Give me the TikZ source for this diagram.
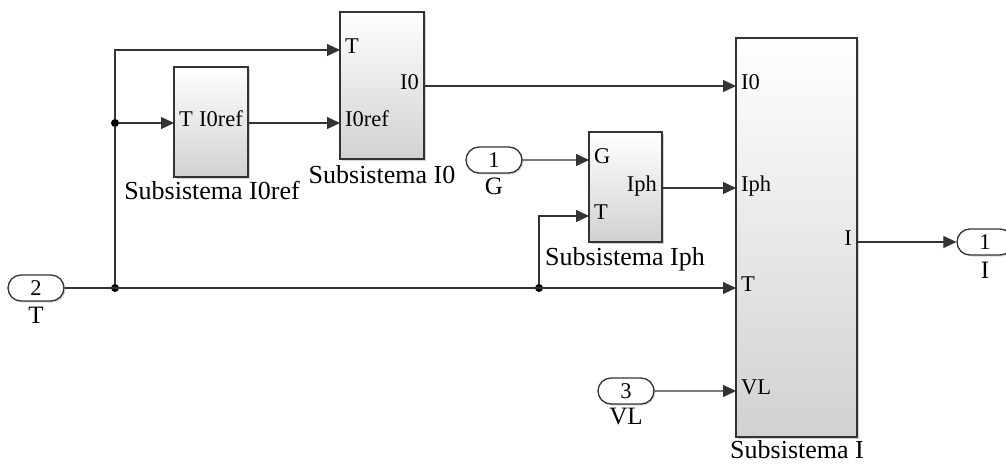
\documentclass[tikz,border=0pt]{standalone}
\usepackage{fontspec}
\setmainfont{Liberation Serif}
\usetikzlibrary{arrows.meta,positioning,shadows,shapes.misc}

\begin{document}
\begin{tikzpicture}[x=1pt,y=-1pt,
  font=\fontsize{22.5}{24}\selectfont,
  blk/.style={draw=black!80,line width=1.4pt,inner sep=0pt,
    top color=white,middle color=white,bottom color=black!18,
    drop shadow={shadow xshift=1.5pt,shadow yshift=-1.5pt,opacity=.35}},
  port/.style={rounded rectangle,draw=black!80,line width=1.3pt,fill=white,
    minimum width=56pt,minimum height=26pt,inner sep=0pt,
    drop shadow={shadow xshift=1.5pt,shadow yshift=-1.5pt,opacity=.3}},
  prt/.style={inner sep=5pt,text height=0.66em,text depth=0pt},
  ttl/.style={inner sep=0pt,text height=0.66em,text depth=0pt,font=\fontsize{26}{28}\selectfont},
  lbl/.style={inner sep=0pt,text height=0.66em,text depth=0pt,font=\fontsize{25}{26}\selectfont},
  dot/.style={circle,fill=black,inner sep=0pt,minimum size=8pt},
  sig/.style={draw=black!80,line width=1.2pt},
  >={Triangle[length=13pt,width=12pt]}]
\useasboundingbox (0,0) rectangle (1006,466);
% inports and outport
\node[port] (in2) at (36,288) {2};
\node[lbl] (in2l) at (36,320) {T};
\node[port] (in1) at (494,160) {1};
\node[lbl] (in1l) at (494,191) {G};
\node[port] (in3) at (626,391) {3};
\node[lbl] (in3l) at (626,421) {VL};
\node[port] (out1) at (985,242) {1};
\node[lbl] (out1l) at (985,275) {I};
% Subsistema I0ref
\node[blk,minimum width=74pt,minimum height=110pt] (ref) at (211,122) {};
\node[ttl] (refl) at (212,196) {Subsistema I0ref};
\node[prt,anchor=west] (refT) at (174,123) {T};
\node[prt,anchor=east] (refO) at (248,123) {I0ref};
% Subsistema I0
\node[blk,minimum width=84pt,minimum height=147pt] (io) at (382,85.5) {};
\node[ttl] (iol) at (382,180) {Subsistema I0};
\node[prt,anchor=west] (ioT) at (340,50) {T};
\node[prt,anchor=west] (ioR) at (340,123) {I0ref};
\node[prt,anchor=east] (ioO) at (424,86) {I0};
% Subsistema Iph
\node[blk,minimum width=73pt,minimum height=110pt] (iph) at (625.5,187) {};
\node[ttl] (iphl) at (625,262) {Subsistema Iph};
\node[prt,anchor=west] (iphG) at (589,160) {G};
\node[prt,anchor=west] (iphT) at (589,216) {T};
\node[prt,anchor=east] (iphO) at (662,188) {Iph};
% Subsistema I
\node[blk,minimum width=121pt,minimum height=399pt] (isub) at (796.5,237.5) {};
\node[ttl] (isubl) at (797,455) {Subsistema I};
\node[prt,anchor=west] (isubI0) at (736,86) {I0};
\node[prt,anchor=west] (isubIph) at (736,188) {Iph};
\node[prt,anchor=west] (isubT) at (736,288) {T};
\node[prt,anchor=west] (isubVL) at (736,391) {VL};
\node[prt,anchor=east] (isubO) at (857,242) {I};
% branch points
\node[dot] (j1) at (115,288) {};
\node[dot] (j2) at (115,123) {};
\node[dot] (j3) at (539,288) {};
% signals
\draw[sig,->] (in2.east) -- (isubT.west);
\draw[sig] (j1) -- (j2);
\draw[sig,->] (j2) |- (ioT.west);
\draw[sig,->] (j2) -- (refT.west);
\draw[sig,->] (refO.east) -- (ioR.west);
\draw[sig,->] (ioO.east) -- (isubI0.west);
\draw[sig,->] (in1) -- (iphG.west);
\draw[sig,->] (j3) |- (iphT.west);
\draw[sig,->] (iphO.east) -- (isubIph.west);
\draw[sig,->] (in3) -- (isubVL.west);
\draw[sig,->] (isubO.east) -- (out1);
\end{tikzpicture}
\end{document}
